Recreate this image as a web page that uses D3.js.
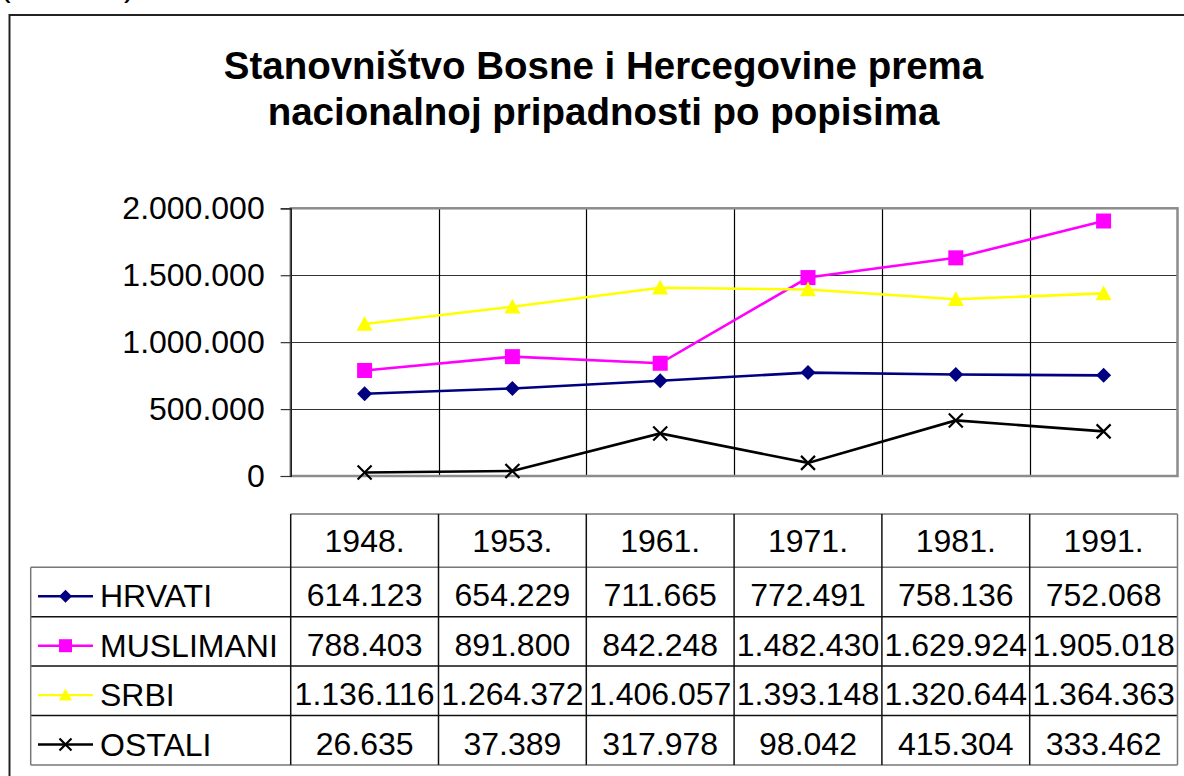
<!DOCTYPE html>
<html>
<head>
<meta charset="utf-8">
<script src="https://cdn.jsdelivr.net/npm/d3@7"></script>
<style>
  body { margin: 0; background: #fff; }
  svg text { font-family: "Liberation Sans", Arial, sans-serif; fill: #000; }
</style>
</head>
<body>
<div id="chart"></div>
<script>
const years = ['1948.', '1953.', '1961.', '1971.', '1981.', '1991.'];
const seriesNames = ['HRVATI', 'MUSLIMANI', 'SRBI', 'OSTALI'];
const hrvati = [614123, 654229, 711665, 772491, 758136, 752068];
const muslimani = [788403, 891800, 842248, 1482430, 1629924, 1905018];
const srbi = [1136116, 1264372, 1406057, 1393148, 1320644, 1364363];
const ostali = [26635, 37389, 317978, 98042, 415304, 333462];
const yTicks = [0, 500000, 1000000, 1500000, 2000000];
const titleLines = ['Stanovništvo Bosne i Hercegovine prema', 'nacionalnoj pripadnosti po popisima'];

const seriesColors = ['#000080', '#ff00ff', '#ffff00', '#000000'];
const seriesMarkers = ['diamond', 'square', 'triangle', 'cross'];

const series = seriesNames.map((name, i) => ({
    name: name,
    values: [hrvati, muslimani, srbi, ostali][i],
    color: seriesColors[i],
    marker: seriesMarkers[i]
}));

const width = 1184, height = 776;
const plot = { left: 290.7, right: 1177.5, top: 208.3, bottom: 476 };

const locale = d3.formatLocale({ decimal: ',', thousands: '.', grouping: [3], currency: ['', ''] });
const fmt = locale.format(',d');

const svg = d3.select('#chart').append('svg')
    .attr('width', width)
    .attr('height', height);

// clipped caption from above
svg.append('text').attr('x', 0).attr('y', -4).attr('font-size', 32).text('(');
svg.append('text').attr('x', 124).attr('y', -4).attr('font-size', 32).text(')');

// chart frame
svg.append('rect')
    .attr('x', 9.5).attr('y', 15)
    .attr('width', width + 20).attr('height', height + 20)
    .attr('fill', 'none')
    .attr('stroke', '#222')
    .attr('stroke-width', 2);

// title
svg.append('g').selectAll('text')
    .data(titleLines).enter()
    .append('text')
    .attr('x', 603.5)
    .attr('y', (d, i) => 79 + i * 46)
    .attr('text-anchor', 'middle')
    .attr('font-size', 38.5)
    .attr('font-weight', 'bold')
    .text(d => d);

const x = d3.scaleBand().domain(years).range([plot.left, plot.right]);
const y = d3.scaleLinear().domain([0, 2000000]).range([plot.bottom, plot.top]);

// horizontal gridlines
svg.append('g').selectAll('line')
    .data(yTicks.slice(1, -1)).enter()
    .append('line')
    .attr('x1', plot.left).attr('x2', plot.right)
    .attr('y1', d => Math.round(y(d)) + 0.5).attr('y2', d => Math.round(y(d)) + 0.5)
    .attr('stroke', '#333').attr('stroke-width', 1.2);

// vertical gridlines between categories
svg.append('g').selectAll('line')
    .data(years.slice(1)).enter()
    .append('line')
    .attr('x1', d => Math.round(x(d)) + 0.5).attr('x2', d => Math.round(x(d)) + 0.5)
    .attr('y1', plot.top).attr('y2', plot.bottom)
    .attr('stroke', '#000').attr('stroke-width', 1.2);

// plot border
svg.append('rect')
    .attr('x', plot.left).attr('y', plot.top)
    .attr('width', plot.right - plot.left).attr('height', plot.bottom - plot.top)
    .attr('fill', 'none')
    .attr('stroke', '#8c8c8c')
    .attr('stroke-width', 2.5);

// y axis
const yAxis = svg.append('g')
    .attr('transform', 'translate(' + plot.left + ',0)')
    .call(d3.axisLeft(y).tickValues(yTicks).tickFormat(fmt).tickSize(10).tickPadding(16));
yAxis.select('.domain').attr('stroke', '#000').attr('stroke-width', 1.2);
yAxis.selectAll('.tick line').attr('stroke', '#333').attr('stroke-width', 1.2);
yAxis.selectAll('.tick text')
    .attr('font-family', '"Liberation Sans", Arial, sans-serif')
    .attr('font-size', 32)
    .attr('fill', '#000');

function drawMarker(sel, type, color, size) {
    const s = size;
    if (type === 'diamond') {
        sel.append('path').attr('d', `M0,${-s}L${s},0L0,${s}L${-s},0Z`).attr('fill', color);
    } else if (type === 'square') {
        sel.append('rect').attr('x', -s).attr('y', -s).attr('width', 2 * s).attr('height', 2 * s).attr('fill', color);
    } else if (type === 'triangle') {
        sel.append('path').attr('d', `M0,${-s}L${s},${s * 0.85}L${-s},${s * 0.85}Z`).attr('fill', color);
    } else {
        sel.append('path').attr('d', `M${-s},${-s}L${s},${s}M${-s},${s}L${s},${-s}`)
            .attr('stroke', color).attr('stroke-width', 2.2).attr('fill', 'none');
    }
}

const line = d3.line()
    .x((d, i) => x(years[i]) + x.bandwidth() / 2)
    .y(d => y(d));

const markerSize = { diamond: 7.5, square: 7.5, triangle: 8, cross: 7 };

series.forEach(s => {
    svg.append('path')
        .datum(s.values)
        .attr('d', line)
        .attr('fill', 'none')
        .attr('stroke', s.color)
        .attr('stroke-width', 2.6);
    svg.append('g').selectAll('g')
        .data(s.values).enter()
        .append('g')
        .attr('transform', (d, i) => 'translate(' + (x(years[i]) + x.bandwidth() / 2) + ',' + y(d) + ')')
        .each(function() { drawMarker(d3.select(this), s.marker, s.color, markerSize[s.marker]); });
});

// data table
const table = { left: 30.7, headerTop: 514, headerBottom: 567.3, rowH: 49.4 };
const rowTop = i => table.headerBottom + i * table.rowH;
const tableBottom = rowTop(series.length);
const tg = svg.append('g');

// header row
years.forEach(yr => {
    tg.append('text')
        .attr('x', x(yr) + x.bandwidth() / 2)
        .attr('y', 551.5)
        .attr('text-anchor', 'middle')
        .attr('font-size', 32)
        .text(yr);
});

series.forEach((s, i) => {
    const top = rowTop(i);
    const ly = top + 29;
    tg.append('line')
        .attr('x1', 38).attr('x2', 93)
        .attr('y1', ly).attr('y2', ly)
        .attr('stroke', s.color).attr('stroke-width', 2.4);
    const mg = tg.append('g').attr('transform', 'translate(65.5,' + ly + ')');
    drawMarker(mg, s.marker, s.color, s.marker === 'cross' ? 6 : 6.5);
    tg.append('text')
        .attr('x', 100)
        .attr('y', top + 40)
        .attr('font-size', 32)
        .text(s.name);
    s.values.forEach((v, j) => {
        tg.append('text')
            .attr('x', x(years[j]) + x.bandwidth() / 2)
            .attr('y', top + 39)
            .attr('text-anchor', 'middle')
            .attr('font-size', 32)
            .text(fmt(v));
    });
});

// table grid lines
const inner = '#111', outer = '#777';
// horizontal lines
tg.append('line').attr('x1', plot.left).attr('x2', plot.right)
    .attr('y1', table.headerTop).attr('y2', table.headerTop).attr('stroke', outer).attr('stroke-width', 1.5);
d3.range(series.length + 1).forEach(i => {
    const yy = rowTop(i);
    tg.append('line')
        .attr('x1', i === 0 || i === series.length ? table.left : table.left).attr('x2', plot.right)
        .attr('y1', yy).attr('y2', yy)
        .attr('stroke', (i === 0 || i === series.length) ? outer : inner)
        .attr('stroke-width', 1.5);
});
// vertical lines
tg.append('line').attr('x1', table.left).attr('x2', table.left)
    .attr('y1', table.headerBottom).attr('y2', tableBottom).attr('stroke', outer).attr('stroke-width', 1.5);
years.forEach((yr, j) => {
    tg.append('line')
        .attr('x1', x(yr)).attr('x2', x(yr))
        .attr('y1', table.headerTop).attr('y2', tableBottom)
        .attr('stroke', inner).attr('stroke-width', 1.5);
});
tg.append('line').attr('x1', plot.right).attr('x2', plot.right)
    .attr('y1', table.headerTop).attr('y2', tableBottom).attr('stroke', outer).attr('stroke-width', 1.5);
</script>
</body>
</html>
